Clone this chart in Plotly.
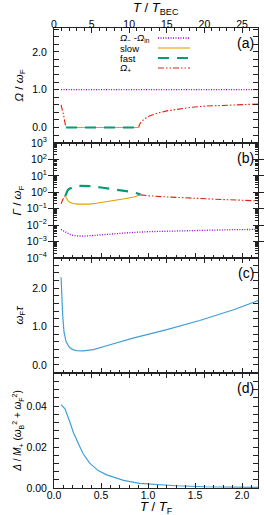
import plotly.graph_objects as go

# ---------------- data ----------------
# panel (a): frequencies Omega / omega_F vs T/T_F
T_a_min = [0.075, 2.17]
Om_min_in = [1.0, 1.0]
T_a_plus = [0.075, 0.085, 0.10, 0.115, 0.128, None, 0.90, 0.91, 0.93, 0.97, 1.02, 1.10, 1.20, 1.30, 1.45, 1.60, 1.80, 2.00, 2.17]
Om_plus = [0.60, 0.52, 0.35, 0.15, 0.0, None, 0.0, 0.08, 0.16, 0.24, 0.31, 0.38, 0.44, 0.48, 0.53, 0.565, 0.59, 0.61, 0.62]
T_a_sf = [0.128, 0.90]
Om_slow = [0.0, 0.0]
Om_fast = [0.0, 0.0]

# panel (b): damping Gamma / omega_F
T_b_min = [0.075, 0.10, 0.13, 0.17, 0.22, 0.30, 0.40, 0.50, 0.60, 0.80, 1.00, 1.30, 1.60, 1.90, 2.17]
G_min_in = [5.5e-3, 4.5e-3, 3.4e-3, 2.7e-3, 2.3e-3, 2.15e-3, 2.3e-3, 2.6e-3, 2.9e-3, 3.5e-3, 4.0e-3, 4.5e-3, 5.0e-3, 5.3e-3, 5.5e-3]
T_b_plus = [0.075, 0.085, 0.095, 0.105, 0.12, None, 0.92, 1.00, 1.20, 1.40, 1.60, 1.80, 2.00, 2.17]
G_plus = [0.20, 0.28, 0.38, 0.50, 0.60, None, 0.70, 0.62, 0.52, 0.45, 0.40, 0.36, 0.33, 0.30]
T_b_slow = [0.12, 0.135, 0.15, 0.17, 0.20, 0.25, 0.30, 0.38, 0.45, 0.55, 0.65, 0.75, 0.85, 0.92]
G_slow = [0.60, 0.38, 0.30, 0.25, 0.21, 0.19, 0.185, 0.19, 0.215, 0.26, 0.32, 0.40, 0.52, 0.70]
T_b_fast = [0.12, 0.13, 0.145, 0.16, 0.18, 0.21, 0.26, 0.32, 0.40, 0.50, 0.60, 0.72, 0.83, 0.92]
G_fast = [0.60, 0.90, 1.30, 1.60, 1.90, 2.20, 2.45, 2.50, 2.35, 1.95, 1.65, 1.35, 1.05, 0.75]

# panel (c): omega_F tau
T_c = [0.075, 0.082, 0.092, 0.106, 0.128, 0.15, 0.17, 0.20, 0.24, 0.31, 0.42, 0.56, 0.74, 0.84, 1.02, 1.20, 1.55, 1.91, 2.17]
wtau = [2.29, 1.74, 1.31, 0.87, 0.61, 0.51, 0.45, 0.40, 0.375, 0.365, 0.40, 0.50, 0.63, 0.70, 0.81, 0.92, 1.16, 1.44, 1.68]

# panel (d): Delta / M+ (omega_B^2 + omega_F^2)
T_d = [0.075, 0.117, 0.17, 0.205, 0.26, 0.31, 0.38, 0.47, 0.56, 0.74, 0.91, 1.02, 1.30, 1.60, 1.90, 2.17]
Delta = [0.0407, 0.0386, 0.0321, 0.0272, 0.0216, 0.0167, 0.0121, 0.0085, 0.0064, 0.0037, 0.0023, 0.0019, 0.0011, 0.0006, 0.0004, 0.0003]

x_range = [0, 2.17]
TBEC_per_TF = 12.5
x2_range = [0, 2.17 * TBEC_per_TF]

legend_labels = ["<i>Ω</i><sub>−</sub> -<i>Ω</i><sub>in</sub>", "slow", "fast", "<i>Ω</i><sub>+</sub>"]
panel_tags = ["(a)", "(b)", "(c)", "(d)"]
top_title = "<i>T</i> / <i>T</i><sub>BEC</sub>"
bottom_title = "<i>T</i> / <i>T</i><sub>F</sub>"

# ---------------- styles ----------------
C_PUR = "#9400d3"
C_ORA = "#e69f00"
C_GRN = "#009e73"
C_RED = "#e51e10"
C_BLU = "#3f9fd8"
D_PUR = "1px,1.5px"
D_GRN = "11px,8px"
D_RED = "6px,2px,1.5px,2px,1.5px,2px"
FONT = "Liberation Sans, Arial, sans-serif"

styles = {
    "min": dict(color=C_PUR, width=1.3, dash=D_PUR),
    "slow": dict(color=C_ORA, width=1.1),
    "fast": dict(color=C_GRN, width=2.2, dash=D_GRN),
    "plus": dict(color=C_RED, width=1.1, dash=D_RED),
}

fig = go.Figure()

def add(x, y, xa, ya, key):
    fig.add_trace(go.Scatter(x=x, y=y, mode="lines", line=styles[key], xaxis=xa, yaxis=ya,
                             showlegend=False, hoverinfo="skip", connectgaps=False))

# panel a
add(T_a_min, Om_min_in, "x", "y", "min")
add(T_a_plus, Om_plus, "x", "y", "plus")
add(T_a_sf, Om_slow, "x", "y", "slow")
add(T_a_sf, Om_fast, "x", "y", "fast")
# panel b
add(T_b_min, G_min_in, "x2", "y2", "min")
add(T_b_plus, G_plus, "x2", "y2", "plus")
add(T_b_slow, G_slow, "x2", "y2", "slow")
add(T_b_fast, G_fast, "x2", "y2", "fast")
# panel c, d
fig.add_trace(go.Scatter(x=T_c, y=wtau, mode="lines", line=dict(color=C_BLU, width=1.2),
                         xaxis="x3", yaxis="y3", showlegend=False, hoverinfo="skip"))
fig.add_trace(go.Scatter(x=T_d, y=Delta, mode="lines", line=dict(color=C_BLU, width=1.2),
                         xaxis="x4", yaxis="y4", showlegend=False, hoverinfo="skip"))
# invisible traces to hold the top axes and the minor-tick log axis
for i in range(4):
    fig.add_trace(go.Scatter(x=[x2_range[0]], y=[None], mode="lines", xaxis=f"x{5+i}", yaxis="y" if i == 0 else f"y{1+i}",
                             showlegend=False, hoverinfo="skip"))
fig.add_trace(go.Scatter(x=[None], y=[None], mode="lines", xaxis="x2", yaxis="y5",
                         showlegend=False, hoverinfo="skip"))

tickfont = dict(family=FONT, size=10.5, color="#000")
LC = "#222"

domains = [[0.75, 1.0], [0.5, 0.75], [0.25, 0.5], [0.0, 0.25]]
lay = {}
for i in range(4):
    n = i + 1
    xb = dict(domain=[0, 1], range=x_range, anchor=f"y{n}" if n > 1 else "y", automargin=False,
              showline=True, linecolor=LC, linewidth=1, ticks="inside", ticklen=5, tickcolor=LC,
              dtick=0.5, tick0=0, tickformat=".1f", showgrid=False, zeroline=False,
              minor=dict(ticks="inside", ticklen=3, dtick=0.1, tickcolor=LC, showgrid=False),
              showticklabels=(n == 4), tickfont=tickfont, ticklabelstandoff=-3)
    lay["xaxis" if n == 1 else f"xaxis{n}"] = xb
    xt = dict(range=x2_range, overlaying="x" if n == 1 else f"x{n}", side="top", automargin=False,
              anchor="y" if n == 1 else f"y{n}",
              showline=True, linecolor=LC, linewidth=1, ticks="inside", ticklen=5, tickcolor=LC,
              dtick=5, tick0=0, showgrid=False, zeroline=False,
              minor=dict(ticks="inside", ticklen=3, dtick=1, tickcolor=LC, showgrid=False),
              showticklabels=(n == 1), tickfont=tickfont, ticklabelstandoff=-5)
    lay[f"xaxis{4+n}"] = xt

common_y = dict(showline=True, linecolor=LC, linewidth=1, ticks="inside", ticklen=5, tickcolor=LC,
                mirror="allticks", showgrid=False, zeroline=False, tickfont=tickfont, ticklabelstandoff=4,
                automargin=False)
ytitle_font = dict(family=FONT, size=11.5)

lay["yaxis"] = dict(common_y, domain=domains[0], anchor="x", range=[-0.41, 2.63],
                    tickvals=[0, 1, 2], ticktext=["0.0", "1.0", "2.0"],
                    minor=dict(ticks="inside", ticklen=3, dtick=0.2, tick0=0, tickcolor=LC, showgrid=False),
                    title=dict(text="<i>Ω</i> / <i>ω</i><sub>F</sub>", font=ytitle_font, standoff=6))
log_vals = [10.0 ** k for k in range(-4, 4)]
log_text = ["10<sup>−4</sup>", "10<sup>−3</sup>", "10<sup>−2</sup>", "10<sup>−1</sup>",
            "10<sup>0</sup>", "10<sup>1</sup>", "10<sup>2</sup>", "10<sup>3</sup>"]
minor_log = [m * 10.0 ** k for k in range(-4, 3) for m in range(2, 10)]
lay["yaxis2"] = dict(common_y, domain=domains[1], anchor="x2", type="log", range=[-4, 3],
                     tickvals=log_vals, ticktext=log_text,
                     title=dict(text="<i>Γ</i> / <i>ω</i><sub>F</sub>", font=ytitle_font, standoff=2))
# overlay axis that only carries the minor log ticks
lay["yaxis5"] = dict(overlaying="y2", anchor="x2", side="left", type="log", range=[-4, 3],
                     tickvals=minor_log, ticktext=[""] * len(minor_log), showticklabels=False,
                     ticks="inside", ticklen=3, tickcolor=LC, mirror="allticks", showline=False,
                     showgrid=False, zeroline=False, automargin=False)
lay["yaxis3"] = dict(common_y, domain=domains[2], anchor="x3", range=[-0.21, 2.79],
                     tickvals=[0, 1, 2], ticktext=["0.0", "1.0", "2.0"],
                     minor=dict(ticks="inside", ticklen=3, dtick=0.2, tick0=0, tickcolor=LC, showgrid=False),
                     title=dict(text="<i>ω</i><sub>F</sub><i>τ</i>", font=ytitle_font, standoff=6))
lay["yaxis4"] = dict(common_y, domain=domains[3], anchor="x4", range=[0, 0.0561],
                     tickvals=[0, 0.02, 0.04], ticktext=["0.00", "0.02", "0.04"],
                     minor=dict(ticks="inside", ticklen=3, dtick=0.004, tick0=0, tickcolor=LC, showgrid=False),
                     title=dict(text="<i>Δ</i> / <i>M</i><sub>+</sub> (<i>ω</i><sub>B</sub><sup>2</sup> + <i>ω</i><sub>F</sub><sup>2</sup>)",
                                font=dict(family=FONT, size=10), standoff=2))

fig.update_layout(width=264, height=515, margin=dict(l=54, r=6, t=28, b=27, autoexpand=False),
                  paper_bgcolor="white", plot_bgcolor="white", showlegend=False,
                  font=dict(family=FONT, color="#000"), **lay)

# x-axis titles as annotations (precise placement)
fig.add_annotation(text=top_title, xref="x domain", yref="paper", x=0.5, y=1 + (28 - 9) / 460,
                   xanchor="center", yanchor="middle", showarrow=False,
                   font=dict(family=FONT, size=13, color="#000"))
fig.add_annotation(text=bottom_title, xref="x domain", yref="paper", x=0.5, y=-(507 - 488) / 460,
                   xanchor="center", yanchor="middle", showarrow=False,
                   font=dict(family=FONT, size=13, color="#000"))

# panel tags
yrefs = ["y domain", "y2 domain", "y3 domain", "y4 domain"]
for tag, yr in zip(panel_tags, yrefs):
    fig.add_annotation(text=tag, xref="x domain", yref=yr, x=0.94, y=1 - 15 / 115,
                       xanchor="center", yanchor="middle", showarrow=False,
                       font=dict(family=FONT, size=14, color="#000"))

# manual legend (text left, sample right) inside panel (a)
leg_keys = ["min", "slow", "fast", "plus"]
for k, (lab, key) in enumerate(zip(legend_labels, leg_keys)):
    yy = 1 - (10 + 10 * k) / 115
    fig.add_annotation(text=lab, xref="x domain", yref="y domain", x=(118 - 54) / 204, y=yy,
                       xanchor="left", yanchor="middle", showarrow=False,
                       font=dict(family=FONT, size=9.5, color="#000"))
    fig.add_shape(type="line", xref="x domain", yref="y domain",
                  x0=(158 - 54) / 204, x1=(190 - 54) / 204, y0=yy, y1=yy, line=styles[key])

fig.write_html("out.html", config={"displayModeBar": False},
               post_script="document.body.style.margin='0';")
